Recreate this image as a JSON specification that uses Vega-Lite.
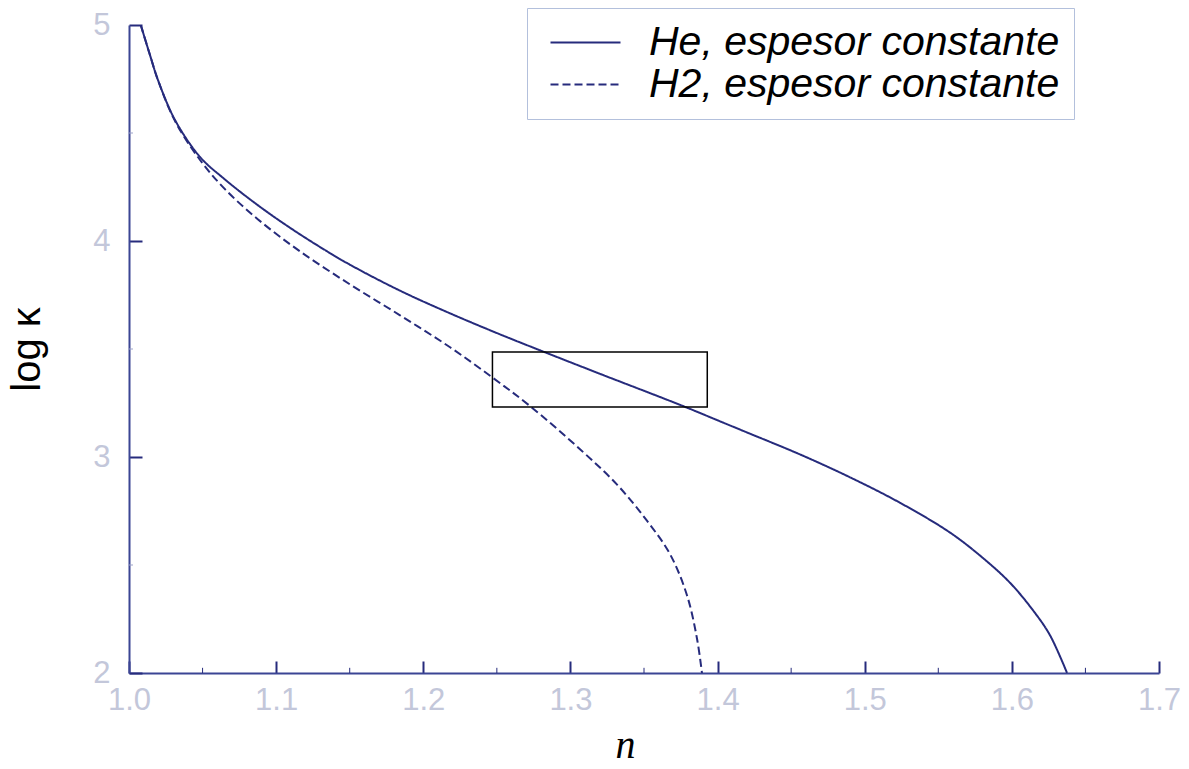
{
  "$schema": "https://vega.github.io/schema/vega-lite/v6.json",
  "width": 1030,
  "height": 648,
  "autosize": {"type": "none"},
  "padding": {"left": 129, "top": 25, "right": 30, "bottom": 96},
  "background": "white",
  "config": {
    "view": {"stroke": null},
    "axis": {
      "grid": false,
      "domainColor": "#3b4594",
      "domainWidth": 2,
      "tickColor": "#262b7c",
      "tickWidth": 2,
      "labelFont": "Liberation Sans",
      "labelFontSize": 31,
      "labelColor": "#c3c7da",
      "titleFont": "Liberation Sans",
      "titleColor": "black",
      "titleFontWeight": "normal"
    }
  },
  "datasets": {
    "curves": [
      {"series": "He, espesor constante", "n": 1.008, "logk": 5.0},
      {"series": "He, espesor constante", "n": 1.0143, "logk": 4.86},
      {"series": "He, espesor constante", "n": 1.0197, "logk": 4.745},
      {"series": "He, espesor constante", "n": 1.0313, "logk": 4.56},
      {"series": "He, espesor constante", "n": 1.0483, "logk": 4.389},
      {"series": "He, espesor constante", "n": 1.0652, "logk": 4.285},
      {"series": "He, espesor constante", "n": 1.0877, "logk": 4.165},
      {"series": "He, espesor constante", "n": 1.1108, "logk": 4.055},
      {"series": "He, espesor constante", "n": 1.1332, "logk": 3.958},
      {"series": "He, espesor constante", "n": 1.1502, "logk": 3.89},
      {"series": "He, espesor constante", "n": 1.1842, "logk": 3.77},
      {"series": "He, espesor constante", "n": 1.2182, "logk": 3.665},
      {"series": "He, espesor constante", "n": 1.2521, "logk": 3.568},
      {"series": "He, espesor constante", "n": 1.2793, "logk": 3.494},
      {"series": "He, espesor constante", "n": 1.3201, "logk": 3.385},
      {"series": "He, espesor constante", "n": 1.3765, "logk": 3.236},
      {"series": "He, espesor constante", "n": 1.4017, "logk": 3.165},
      {"series": "He, espesor constante", "n": 1.422, "logk": 3.108},
      {"series": "He, espesor constante", "n": 1.456, "logk": 3.012},
      {"series": "He, espesor constante", "n": 1.49, "logk": 2.906},
      {"series": "He, espesor constante", "n": 1.524, "logk": 2.788},
      {"series": "He, espesor constante", "n": 1.558, "logk": 2.65},
      {"series": "He, espesor constante", "n": 1.5804, "logk": 2.532},
      {"series": "He, espesor constante", "n": 1.5987, "logk": 2.418},
      {"series": "He, espesor constante", "n": 1.6144, "logk": 2.29},
      {"series": "He, espesor constante", "n": 1.6259, "logk": 2.175},
      {"series": "He, espesor constante", "n": 1.6375, "logk": 2.0},
      {"series": "H2, espesor constante", "n": 1.008, "logk": 5.0},
      {"series": "H2, espesor constante", "n": 1.0143, "logk": 4.86},
      {"series": "H2, espesor constante", "n": 1.0197, "logk": 4.745},
      {"series": "H2, espesor constante", "n": 1.0313, "logk": 4.555},
      {"series": "H2, espesor constante", "n": 1.0483, "logk": 4.375},
      {"series": "H2, espesor constante", "n": 1.0652, "logk": 4.24},
      {"series": "H2, espesor constante", "n": 1.0877, "logk": 4.1},
      {"series": "H2, espesor constante", "n": 1.1162, "logk": 3.952},
      {"series": "H2, espesor constante", "n": 1.1502, "logk": 3.799},
      {"series": "H2, espesor constante", "n": 1.1842, "logk": 3.656},
      {"series": "H2, espesor constante", "n": 1.2182, "logk": 3.508},
      {"series": "H2, espesor constante", "n": 1.2474, "logk": 3.366},
      {"series": "H2, espesor constante", "n": 1.2725, "logk": 3.236},
      {"series": "H2, espesor constante", "n": 1.3065, "logk": 3.036},
      {"series": "H2, espesor constante", "n": 1.3317, "logk": 2.872},
      {"series": "H2, espesor constante", "n": 1.352, "logk": 2.705},
      {"series": "H2, espesor constante", "n": 1.3677, "logk": 2.55},
      {"series": "H2, espesor constante", "n": 1.3792, "logk": 2.36},
      {"series": "H2, espesor constante", "n": 1.386, "logk": 2.16},
      {"series": "H2, espesor constante", "n": 1.3894, "logk": 2.0}
    ],
    "box": [{"n1": 1.247, "n2": 1.393, "k1": 3.231, "k2": 3.486}],
    "minorX": [
      {"n": 1.05}, {"n": 1.15}, {"n": 1.25}, {"n": 1.35},
      {"n": 1.45}, {"n": 1.55}, {"n": 1.65}
    ],
    "minorY": [{"k": 2.5}, {"k": 3.5}, {"k": 4.5}]
  },
  "layer": [
    {
      "data": {"name": "curves"},
      "mark": {"type": "line", "strokeWidth": 2, "color": "#262b7c", "interpolate": "catmull-rom", "clip": true},
      "encoding": {
        "x": {
          "field": "n", "type": "quantitative",
          "scale": {"domain": [1.0, 1.7], "nice": false, "zero": false},
          "axis": {
            "values": [1.0, 1.1, 1.2, 1.3, 1.4, 1.5, 1.6, 1.7],
            "format": ".1f",
            "tickSize": -12,
            "labelPadding": 24,
            "labelFlush": false,
            "title": "n",
            "titleFont": "Liberation Serif",
            "titleFontStyle": "italic",
            "titleFontSize": 40,
            "titleBaseline": "alphabetic",
            "titleAnchor": "start",
            "titleAlign": "center",
            "titleX": 496,
            "titleY": 84
          }
        },
        "y": {
          "field": "logk", "type": "quantitative",
          "scale": {"domain": [2, 5], "nice": false, "zero": false},
          "axis": {
            "values": [2, 3, 4, 5],
            "format": "d",
            "tickSize": -13,
            "labelPadding": 32,
            "labelFlush": false,
            "title": "log κ",
            "titleFontSize": 40,
            "titlePadding": 45
          }
        },
        "strokeDash": {
          "field": "series", "type": "nominal",
          "scale": {
            "domain": ["He, espesor constante", "H2, espesor constante"],
            "range": [[1, 0], [8, 4]]
          },
          "legend": {
            "orient": "none",
            "legendX": 398,
            "legendY": -17,
            "title": null,
            "symbolType": "M-5,0H5",
            "symbolSize": 196,
            "symbolStrokeWidth": 2,
            "symbolStrokeColor": "#262b7c",
            "symbolOffset": 24,
            "labelFont": "Liberation Sans",
            "labelFontStyle": "italic",
            "labelFontSize": 41,
            "labelColor": "black",
            "labelOffset": 43,
            "labelLimit": 700,
            "rowPadding": 0,
            "padding": 14,
            "strokeColor": "#b3c0dc",
            "fillColor": "white"
          }
        }
      }
    },
    {
      "data": {"name": "box"},
      "mark": {"type": "rect", "fill": null, "stroke": "black", "strokeWidth": 1.5},
      "encoding": {
        "x": {"field": "n1", "type": "quantitative"},
        "x2": {"field": "n2"},
        "y": {"field": "k1", "type": "quantitative"},
        "y2": {"field": "k2"}
      }
    },
    {
      "data": {"name": "minorX"},
      "mark": {"type": "rule", "color": "#262b7c", "strokeWidth": 1},
      "encoding": {
        "x": {"field": "n", "type": "quantitative"},
        "y": {"datum": 2},
        "y2": {"datum": 2.024}
      }
    },
    {
      "data": {"name": "minorY"},
      "mark": {"type": "rule", "color": "#9aa0c8", "strokeWidth": 1},
      "encoding": {
        "y": {"field": "k", "type": "quantitative"},
        "x": {"datum": 1.0},
        "x2": {"datum": 1.0027}
      }
    }
  ]
}
